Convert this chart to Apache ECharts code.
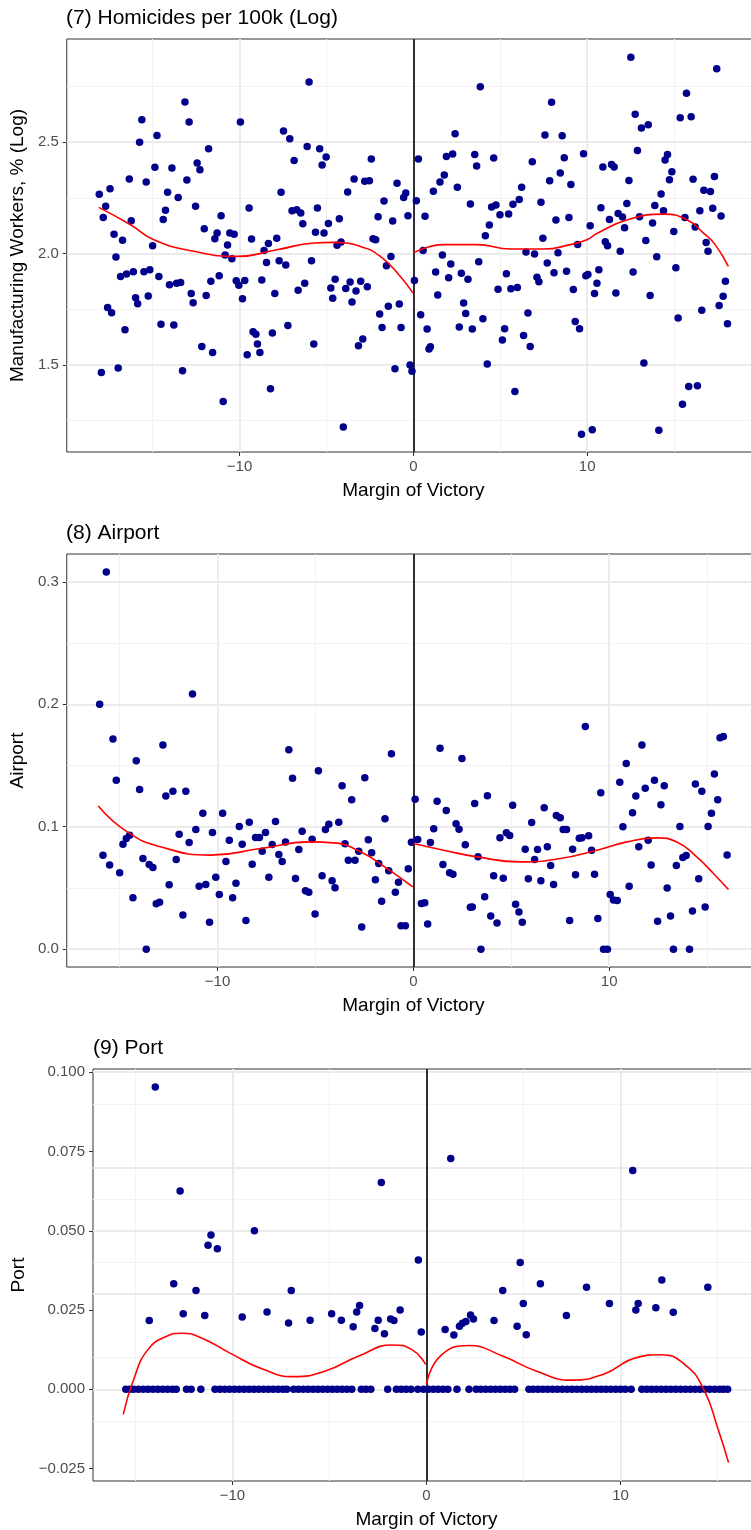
<!DOCTYPE html>
<html><head><meta charset="utf-8">
<script src="https://cdn.jsdelivr.net/npm/echarts@6/dist/echarts.min.js"></script>
<style>html,body{margin:0;padding:0;background:#fff;overflow:hidden}#c{width:760px;height:1530px}</style>
</head><body><div id="c"></div>
<script>
// ---------- tick labels / grid values ----------
const xTicks = [-10, 0, 10];
const xMinor = [-15, -5, 5, 15];
const homYTicks = [1.5, 2.0, 2.5];
const homYMinor = [1.25, 1.75, 2.25, 2.75];
const airYTicks = [0, 0.1, 0.2, 0.3];
const airYMinor = [0.05, 0.15, 0.25];
const portYTicks = [-0.025, 0, 0.025, 0.05, 0.075, 0.1];
const portYMinor = [-0.0125, 0.0125, 0.0375, 0.0625, 0.0875];

// ---------- (7) Homicides ----------
const homicidePoints = [
[-6.0,2.77],[-13.14,2.68],[-15.62,2.6],[-12.9,2.59],[-9.95,2.59],[-15.75,2.5],[-14.75,2.53],[-7.47,2.55],[-7.11,2.515],[-6.11,2.48],[-5.39,2.47],[-5.02,2.433],[-5.25,2.397],[-6.86,2.418],[-11.78,2.47],[-12.44,2.406],[-12.28,2.376],[-14.87,2.387],[-13.89,2.384],[-13.03,2.33],[-16.34,2.334],[-15.37,2.321],[-17.45,2.291],[-18.07,2.266],[-14.14,2.275],[-13.53,2.252],[-17.7,2.212],[-17.84,2.162],[-16.23,2.147],[-14.26,2.194],[-14.39,2.153],[-12.53,2.212],[-11.06,2.17],[-9.45,2.204],[-12.03,2.111],[-11.29,2.092],[-11.42,2.066],[-10.56,2.092],[-10.31,2.086],[-9.31,2.065],[-17.22,2.087],[-16.73,2.06],[-7.61,2.275],[-6.98,2.192],[-6.71,2.197],[-6.48,2.182],[-6.36,2.134],[-5.52,2.204],[-5.63,2.096],[-5.14,2.092],[-4.89,2.135],[-4.26,2.156],[-3.78,2.276],[-3.41,2.334],[-2.8,2.324],[-2.53,2.327],[-2.42,2.424],[-1.69,2.236],[-2.03,2.165],[-1.19,2.146],[-0.94,2.315],[-0.44,2.272],[-0.56,2.252],[-0.31,2.17],[-2.32,2.066],[-2.17,2.062],[-4.16,2.052],[-7.86,2.068],[-8.34,2.045],[-10.69,2.038],[-15.0,2.035],
[-8.59,2.013],[-10.83,1.993],[-10.44,1.977],[-4.39,2.037],[-17.11,1.984],[-1.29,1.987],[-1.55,1.945],[-16.84,1.897],[-16.5,1.908],[-16.11,1.918],[-15.5,1.918],[-15.16,1.927],[-14.64,1.897],[-14.03,1.86],[-13.62,1.867],[-13.39,1.87],[-12.78,1.82],[-12.67,1.779],[-11.92,1.812],[-11.65,1.876],[-11.17,1.9],[-10.19,1.878],[-10.04,1.857],[-9.7,1.879],[-9.83,1.797],[-8.72,1.881],[-8.45,1.96],[-7.72,1.968],[-7.34,1.948],[-7.97,1.82],[-6.63,1.835],[-6.25,1.867],[-5.86,1.968],[-15.98,1.802],[-15.86,1.775],[-15.25,1.809],[-17.59,1.758],[-17.36,1.734],[-16.59,1.658],[-14.52,1.682],[-13.78,1.679],[-12.17,1.583],[-11.55,1.556],[-13.28,1.474],[-17.95,1.466],[-16.98,1.486],[-10.94,1.336],[-9.56,1.546],[-9.22,1.649],[-9.06,1.638],[-8.97,1.594],[-8.83,1.556],[-8.11,1.643],[-7.22,1.677],[-8.22,1.393],[-5.73,1.594],[-4.75,1.845],[-4.5,1.884],[-4.64,1.799],[-3.89,1.843],[-3.64,1.872],[-3.3,1.832],[-3.53,1.782],[-3.03,1.876],[-2.65,1.851],[-1.94,1.728],[-1.44,1.763],[-1.8,1.668],[-0.81,1.773],[-0.71,1.668],[-3.16,1.586],[-2.91,1.616],[-1.06,1.483],[-0.19,1.5],[-0.08,1.471],[-4.03,1.221],
[12.51,2.881],[17.45,2.83],[3.85,2.749],[15.71,2.719],[7.95,2.679],[12.76,2.625],[15.35,2.61],[15.98,2.614],[13.12,2.563],[13.51,2.578],[2.4,2.538],[7.57,2.532],[8.56,2.529],[12.89,2.462],[0.29,2.424],[1.9,2.435],[2.26,2.447],[3.53,2.445],[3.64,2.393],[4.62,2.429],[6.84,2.412],[8.68,2.43],[9.79,2.448],[10.9,2.388],[11.4,2.4],[11.55,2.388],[14.48,2.42],[14.62,2.444],[14.87,2.367],[14.73,2.331],[16.09,2.333],[17.32,2.346],[1.78,2.352],[1.53,2.321],[1.15,2.279],[0.17,2.237],[2.53,2.297],[7.84,2.327],[8.45,2.361],[9.06,2.31],[6.23,2.297],[6.09,2.243],[5.73,2.221],[5.48,2.177],[4.98,2.174],[4.75,2.218],[4.5,2.209],[3.28,2.222],[4.37,2.128],[4.14,2.08],[0.67,2.167],[7.34,2.23],[8.2,2.15],[8.95,2.162],[7.45,2.068],[10.17,2.125],[10.79,2.206],[11.28,2.153],[11.78,2.18],[12.03,2.164],[12.28,2.225],[12.4,2.328],[12.15,2.116],[13.01,2.165],[13.76,2.137],[13.89,2.216],[14.25,2.267],[14.39,2.192],[14.98,2.099],[15.62,2.162],[16.21,2.119],[16.48,2.192],[16.71,2.284],[17.09,2.278],[17.22,2.203],[17.7,2.168],[13.37,2.059],[11.04,2.053],[16.84,2.05],[9.45,2.04],
[0.56,2.013],[1.67,1.993],[1.28,1.917],[2.15,1.953],[2.03,1.891],[2.76,1.911],[3.14,1.884],[3.76,1.963],[0.06,1.879],[1.4,1.814],[0.42,1.725],[0.79,1.661],[0.98,1.582],[0.9,1.571],[2.89,1.778],[3.01,1.731],[2.64,1.67],[3.39,1.661],[4.0,1.707],[4.25,1.504],[4.87,1.84],[5.35,1.909],[5.61,1.842],[5.98,1.848],[5.25,1.662],[5.12,1.612],[5.84,1.381],[6.48,2.007],[6.97,1.998],[6.59,1.733],[6.34,1.632],[6.72,1.583],[7.11,1.893],[7.22,1.873],[7.7,1.957],[8.09,1.914],[8.32,2.004],[8.81,1.92],[9.2,1.839],[9.31,1.695],[9.56,1.662],[9.92,1.9],[10.04,1.906],[10.67,1.927],[10.56,1.866],[10.42,1.82],[9.67,1.189],[10.29,1.209],[11.17,2.035],[11.9,2.01],[11.65,1.823],[12.64,1.917],[14.0,1.986],[13.62,1.812],[13.26,1.508],[14.12,1.207],[15.1,1.936],[15.23,1.71],[15.48,1.323],[15.84,1.403],[16.34,1.406],[16.59,1.745],[16.95,2.01],[17.59,1.767],[17.82,1.808],[17.95,1.876],[18.07,1.685]
];
const homicideFitLeft = [[-18.1,2.207],[-16.27,2.129],[-14.93,2.062],[-12.63,2.01],[-10.14,1.987],[-7.84,2.017],[-5.73,2.047],[-4.58,2.05],[-3.05,2.032],[-1.9,1.987],[-0.75,1.897],[-0.02,1.822]];
const homicideFitRight = [[0.0,2.002],[1.74,2.04],[3.66,2.04],[5.58,2.02],[7.49,2.02],[9.02,2.04],[9.98,2.062],[10.56,2.09],[12.28,2.15],[14.39,2.177],[15.73,2.152],[16.69,2.092],[17.36,2.04],[18.12,1.942]];

// ---------- (8) Airport ----------
const airportPoints = [
[-15.68,0.308],[-16.02,0.2],[-11.28,0.2084],[-15.34,0.1716],[-12.79,0.1667],[-6.36,0.1629],[-1.12,0.1596],
[8.78,0.1819],[11.67,0.1667],[15.66,0.1727],[15.83,0.1738],[1.36,0.1642],
[-14.15,0.1539],[-15.17,0.138],[-13.98,0.1304],[-12.64,0.125],[-12.28,0.129],[-11.62,0.129],[-4.85,0.1457],[-6.17,0.1397],[-3.64,0.1334],[-2.48,0.14],[-3.15,0.122],[-1.45,0.1065],[-10.75,0.111],[-9.74,0.111],[-8.38,0.1037],[-7.04,0.1043],[-8.89,0.1002],[-11.11,0.0977],[-10.26,0.0953],[-11.96,0.0939],[-11.45,0.0871],[-9.4,0.089],[-8.74,0.0857],[-8.06,0.0912],[-7.86,0.0912],[-7.55,0.0953],[-7.21,0.0855],[-7.72,0.08],[-6.87,0.0773],[-6.7,0.0716],[-6.53,0.0876],[-5.85,0.0814],[-5.68,0.0964],[-5.17,0.0898],[-4.49,0.0977],[-4.32,0.102],[-3.81,0.1037],[-3.49,0.086],[-3.32,0.0727],[-2.98,0.0727],[-2.79,0.08],[-2.3,0.0893],[-2.13,0.0787],[-1.77,0.07],[-1.26,0.064],[-0.76,0.0547],[-0.92,0.0465],[-0.26,0.0656],[-0.1,0.0874],[-1.94,0.0566],[-1.62,0.0391],[-2.64,0.018],[-0.63,0.0192],[-0.41,0.0192],[-15.85,0.0767],[-15.51,0.0688],[-15.0,0.0623],[-14.83,0.0857],[-14.66,0.0904],[-14.49,0.0931],[-13.81,0.074],[-13.49,0.0691],[-13.3,0.0667],[-14.32,0.0419],[-13.13,0.037],[-12.96,0.0383],[-12.11,0.0732],[-12.47,0.0525],[-10.94,0.0514],[-10.6,0.0528],[-11.77,0.0279],[-10.09,0.0588],[-9.57,0.0716],[-9.91,0.0446],[-9.23,0.0419],[-10.41,0.0219],[-9.06,0.0539],[-8.55,0.0233],[-8.23,0.0694],[-7.38,0.0588],[-6.02,0.0577],[-5.51,0.0476],[-5.34,0.0465],[-5.02,0.0288],[-4.66,0.0599],[-4.15,0.0558],[-4.0,0.0501],[-13.64,0.0],
[2.48,0.1558],[0.09,0.1225],[1.21,0.1209],[1.68,0.1133],[3.13,0.119],[3.78,0.1253],[5.07,0.1176],[2.18,0.1024],[2.33,0.098],[1.04,0.0983],[0.22,0.0896],[0.87,0.0871],[2.65,0.0852],[3.3,0.0754],[1.51,0.0691],[1.85,0.0623],[2.02,0.0612],[4.42,0.091],[4.75,0.095],[4.92,0.0928],[4.1,0.0599],[4.59,0.058],[3.64,0.0427],[3.95,0.0271],[4.27,0.0214],[2.91,0.0342],[3.01,0.0345],[0.41,0.0372],[0.58,0.0378],[0.73,0.0206],[3.45,0.0],[5.22,0.0367],[5.39,0.0304],[5.56,0.022],[5.71,0.0816],[6.04,0.1035],[6.34,0.0814],[6.19,0.0732],[5.87,0.0574],[6.51,0.0558],[6.68,0.1155],[6.84,0.0836],[7.01,0.0683],[7.16,0.0528],[7.3,0.1092],[7.5,0.1073],[7.65,0.0977],[7.82,0.0977],[8.13,0.0816],[8.28,0.0607],[7.98,0.0233],[8.47,0.0906],[8.61,0.0909],[8.95,0.0926],[9.1,0.0808],[9.25,0.0612],[9.42,0.025],[9.57,0.1277],[9.71,0],[9.91,0],[10.05,0.0446],[10.22,0.0402],[10.41,0.0397],[10.54,0.1364],[10.7,0.1],[10.87,0.1517],[11.02,0.0514],[11.19,0.1114],[11.36,0.125],[11.51,0.0836],[11.84,0.1315],[11.99,0.089],[12.14,0.0688],[12.31,0.138],[12.47,0.0228],[12.64,0.1179],[12.81,0.1334],[12.96,0.05],[13.13,0.0271],[13.28,0],[13.43,0.0683],[13.61,0.1002],[13.76,0.0748],[13.93,0.0765],[14.1,0],[14.25,0.0312],[14.4,0.135],[14.57,0.0574],[14.73,0.129],[14.9,0.0345],[15.05,0.1002],[15.22,0.1111],[15.37,0.143],[15.54,0.122],[16.02,0.0768]
];
const airportFitLeft = [[-16.09,0.117],[-14.61,0.0958],[-12.91,0.0836],[-10.36,0.0768],[-7.81,0.0822],[-5.26,0.0876],[-4.07,0.0868],[-2.7,0.0795],[-1.34,0.0658],[-0.03,0.0509]];
const airportFitRight = [[0.0,0.0863],[1.55,0.0808],[3.25,0.0754],[5.46,0.0713],[7.5,0.074],[9.37,0.0808],[10.9,0.0876],[12.43,0.0909],[13.45,0.0876],[14.47,0.0754],[15.32,0.0618],[16.09,0.0487]];

// ---------- (9) Port ----------
const portPoints = [
[-13.98,0.0953],[-12.7,0.0625],[-2.33,0.0652],[-11.11,0.0487],[-11.26,0.0454],[-10.78,0.0443],[-8.87,0.05],[-0.42,0.0408],[-13.03,0.0333],[-11.88,0.0312],[-6.97,0.0312],[1.25,0.0728],[10.63,0.069],[4.83,0.04],[3.93,0.0312],[5.87,0.0333],[8.25,0.0322],[12.13,0.0345],[14.5,0.0322],
[-14.29,0.0217],[-12.54,0.0238],[-11.43,0.0233],[-9.5,0.0228],[-8.22,0.0244],[-7.11,0.0209],[-6.0,0.0218],[-4.89,0.0238],[-4.39,0.0218],[-3.78,0.0197],[-3.6,0.0244],[-3.45,0.0264],[-2.66,0.0192],[-2.49,0.0218],[-2.17,0.0175],[-1.85,0.0222],[-1.68,0.0217],[-1.36,0.025],[-0.27,0.0181],[0.96,0.0189],[1.41,0.0171],[1.7,0.0199],[1.85,0.0208],[2.03,0.0214],[2.27,0.0234],[2.42,0.0222],[3.48,0.0217],[4.67,0.0199],[4.99,0.0271],[5.14,0.0172],[7.21,0.0233],[9.43,0.0271],[10.79,0.025],[10.91,0.0271],[11.82,0.0257],[12.72,0.0243]
];
const portZeroX = [-15.5,-15.3,-15.1,-14.85,-14.6,-14.35,-14.1,-13.85,-13.6,-13.35,-13.1,-12.9,-12.37,-12.13,-11.63,-10.9,-10.65,-10.4,-10.15,-9.9,-9.65,-9.4,-9.15,-8.9,-8.65,-8.4,-8.15,-7.9,-7.65,-7.4,-7.2,-6.85,-6.6,-6.35,-6.1,-5.85,-5.6,-5.35,-5.1,-4.85,-4.6,-4.35,-4.1,-3.85,-3.36,-3.12,-2.87,-2.0,-1.55,-1.3,-1.05,-0.8,-0.45,-0.15,
0.1,0.35,0.6,0.85,1.1,1.57,2.19,2.56,2.8,3.05,3.3,3.55,3.8,4.05,4.3,4.54,5.28,5.5,5.75,6.0,6.25,6.5,6.75,7.0,7.25,7.5,7.75,8.0,8.25,8.5,8.75,9.0,9.25,9.5,9.75,10.0,10.25,10.55,11.1,11.35,11.6,11.85,12.1,12.35,12.6,12.85,13.1,13.35,13.6,13.85,14.1,14.35,14.6,14.85,15.1,15.3,15.52];
const portZeroY = 0;
const portFitLeft = [[-15.63,-0.0079],[-15.09,0.0032],[-14.35,0.0126],[-13.36,0.0168],[-12.62,0.0177],[-11.63,0.0163],[-10.15,0.0115],[-8.42,0.0063],[-6.82,0.004],[-5.21,0.0058],[-3.49,0.0105],[-1.76,0.014],[-0.77,0.0126],[-0.05,0.0079]];
const portFitRight = [[0.0,0.0016],[0.71,0.0105],[2.19,0.0138],[3.92,0.0105],[5.65,0.0058],[7.5,0.0029],[9.1,0.0047],[10.83,0.01],[12.07,0.0109],[13.3,0.0079],[14.29,0.0],[15.03,-0.0126],[15.57,-0.0231]];

const titles = ['(7) Homicides per 100k (Log)', '(8) Airport', '(9) Port'];
const yNames = ['Manufacturing Workers, % (Log)', 'Airport', 'Port'];
const xName = 'Margin of Victory';

// ---------- chart ----------
const FONT = '"Liberation Sans", Arial, Helvetica, sans-serif';
const minus = s => String(s).replace('-', '\u2212');

const panels = [
  {grid:{left:66, top:39, width:694, height:413}, xr:[-19.94,19.94], yr:[1.109,2.963], yT:homYTicks, yM:homYMinor, fmt:v=>v.toFixed(1), pts:homicidePoints, fits:[homicideFitLeft,homicideFitRight], nameGap:38},
  {grid:{left:66, top:554, width:694, height:413}, xr:[-17.7,17.7], yr:[-0.0146,0.3228], yT:airYTicks, yM:airYMinor, fmt:v=>v.toFixed(1), pts:airportPoints, fits:[airportFitLeft,airportFitRight], nameGap:38},
  {grid:{left:93, top:1069, width:667, height:413}, xr:[-17.19,17.19], yr:[-0.0289,0.101], yT:portYTicks, yM:portYMinor, fmt:v=>minus(v.toFixed(3)), pts:portPoints.concat(portZeroX.map(x=>[x,portZeroY])), fits:[portFitLeft,portFitRight], nameGap:64}
];

const option = {animation:false, backgroundColor:'#fff', title:[], grid:[], xAxis:[], yAxis:[], series:[]};
panels.forEach((p,i)=>{
  option.title.push({text:titles[i], left:p.grid.left, top:p.grid.top-31, padding:0,
    textStyle:{fontFamily:FONT, fontSize:21, fontWeight:'normal', color:'#000'}});
  option.grid.push(Object.assign({show:true, borderColor:'#333333', borderWidth:1, backgroundColor:'#fff'}, p.grid));
  option.xAxis.push({type:'value', gridIndex:i, min:p.xr[0], max:p.xr[1], position:'bottom',
    axisLine:{show:false, onZero:false}, splitLine:{show:false},
    axisTick:{show:true, customValues:xTicks, length:4, lineStyle:{color:'#333333', width:1}},
    axisLabel:{customValues:xTicks, color:'#4D4D4D', fontSize:15, fontFamily:FONT, margin:7, formatter:v=>minus(v)},
    name:xName, nameLocation:'middle', nameGap:29, nameTextStyle:{fontFamily:FONT, fontSize:19, color:'#000'}});
  option.yAxis.push({type:'value', gridIndex:i, min:p.yr[0], max:p.yr[1], position:'left',
    axisLine:{show:false, onZero:false}, splitLine:{show:false},
    axisTick:{show:true, customValues:p.yT, length:4, lineStyle:{color:'#333333', width:1}},
    axisLabel:{customValues:p.yT, color:'#4D4D4D', fontSize:15, fontFamily:FONT, margin:8, formatter:p.fmt},
    name:yNames[i], nameLocation:'middle', nameGap:p.nameGap, nameRotate:90, nameTextStyle:{fontFamily:FONT, fontSize:19, color:'#000'}});
  const ml = (xs, ys, color, width, z) => ({type:'line', xAxisIndex:i, yAxisIndex:i, data:[], silent:true, z:z,
    markLine:{silent:true, z:z, symbol:['none','none'], label:{show:false}, emphasis:{disabled:true},
      lineStyle:{color:color, width:width, type:'solid'},
      data: xs.map(v=>({xAxis:v})).concat(ys.map(v=>({yAxis:v})))}});
  option.series.push(ml(xMinor, p.yM, '#F2F2F2', 1, 1));
  option.series.push(ml(xTicks, p.yT, '#EBEBEB', 2, 1));
  option.series.push(ml([0], [], '#000000', 1.6, 2));
  option.series.push({type:'scatter', xAxisIndex:i, yAxisIndex:i, data:p.pts, symbolSize:7.5, z:5,
    itemStyle:{color:'#00008B', opacity:1}, silent:true});
  p.fits.forEach(f=>option.series.push({type:'line', xAxisIndex:i, yAxisIndex:i, data:f, smooth:0.5, showSymbol:false, z:6,
    lineStyle:{color:'#FF0000', width:1.6}, silent:true}));
});
const chart = echarts.init(document.getElementById('c'), null, {renderer:'canvas'});
chart.setOption(option);
</script></body></html>
